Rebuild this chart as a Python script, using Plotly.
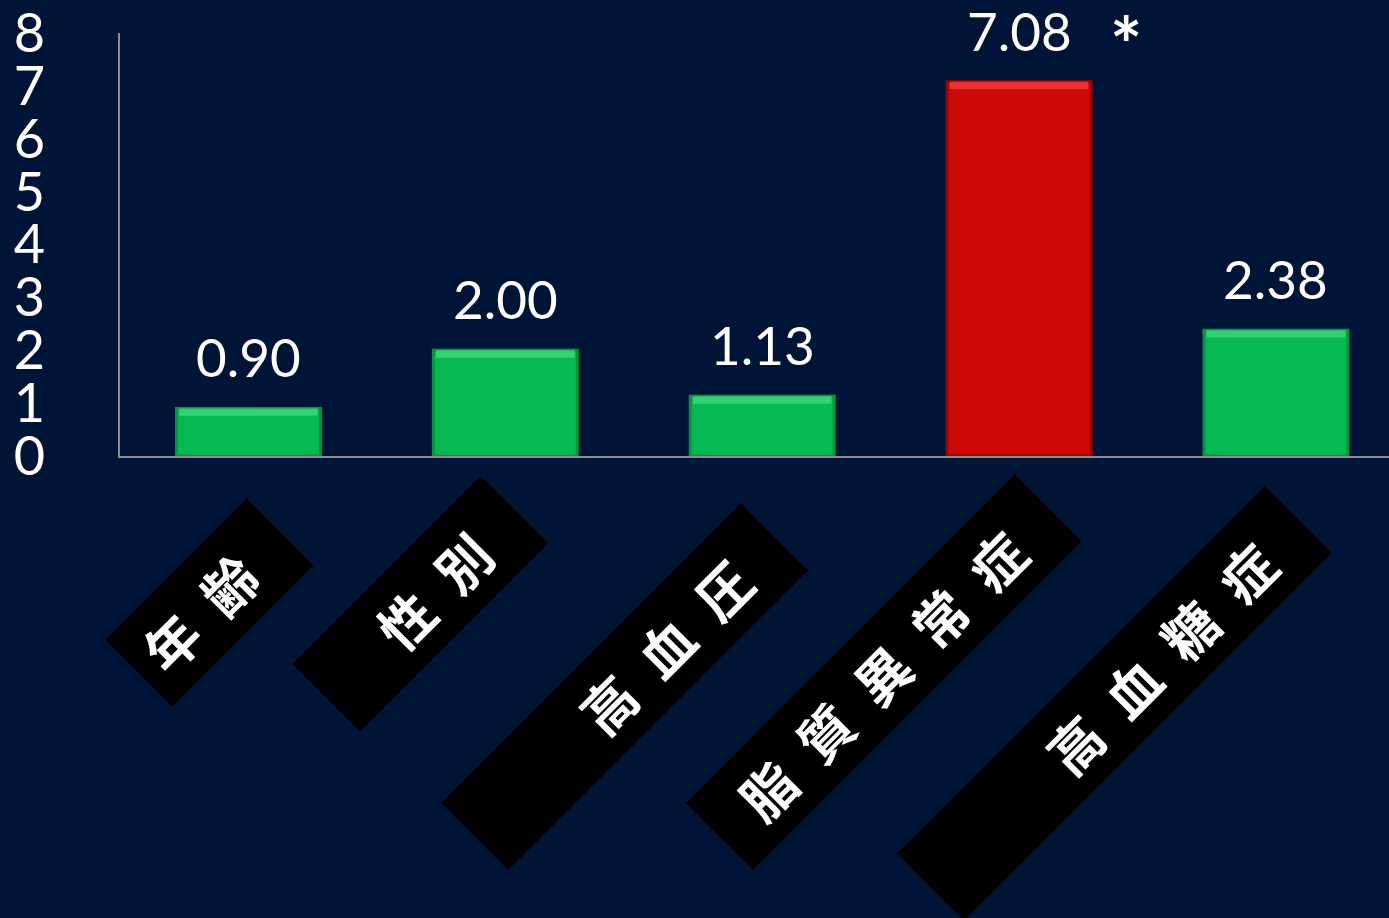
import plotly.graph_objects as go

# Odds ratios by risk factor
categories = ["年 齢", "性 別", "高 血 圧", "脂 質 異 常 症", "高 血 糖 症"]
values = [0.90, 2.00, 1.13, 7.08, 2.38]
value_labels = ["0.90", "2.00", "1.13", "7.08", "2.38"]
significant = [False, False, False, True, False]
y_ticks = [0, 1, 2, 3, 4, 5, 6, 7, 8]

BG = "#001438"
GREEN = "#08b852"
GREEN_EDGE = "#06963f"
GREEN_HI = "#3cd67c"
RED = "#cc0808"
RED_EDGE = "#9a0505"
RED_HI = "#f03a3a"

# black label boxes: (length, thickness) in px and centre offset from the tick
box_len = [200, 266, 424, 465, 520]
box_thick = 95
box_dx = [-39, -85, -138, -136, -162]
box_dy = [-146, -147, -230, -216, -247]

BAR_W = 0.56
BEVEL = 0.14  # depth of the lit top edge, in axis units

x_idx = list(range(len(categories)))
bar_colors = [RED if s else GREEN for s in significant]
edge_colors = [RED_EDGE if s else GREEN_EDGE for s in significant]
hi_colors = [RED_HI if s else GREEN_HI for s in significant]

fig = go.Figure()
fig.add_trace(go.Bar(
    x=x_idx, y=values, width=BAR_W,
    marker=dict(color=bar_colors, line=dict(color=edge_colors, width=3)),
    hoverinfo="skip",
))
# lit bevel along the top of each bar
fig.add_trace(go.Bar(
    x=x_idx, y=[BEVEL] * len(values), base=[v - BEVEL for v in values],
    width=BAR_W - 0.02,
    marker=dict(color=hi_colors, line=dict(width=0)),
    opacity=0.85, hoverinfo="skip",
))

annotations = []
for i, (v, lab) in enumerate(zip(values, value_labels)):
    annotations.append(dict(
        x=i, y=v, xref="x", yref="y", text=lab, showarrow=False,
        xanchor="center", yanchor="bottom", yshift=18,
        font=dict(family="Lato", size=53, color="white"),
    ))
    if significant[i]:
        annotations.append(dict(
            x=i, y=v, xref="x", yref="y", text="*", showarrow=False,
            xanchor="center", yanchor="middle", xshift=107, yshift=38,
            font=dict(family="Lato", size=76, color="white", weight="bold"),
        ))

pad = 10
for i, cat in enumerate(categories):
    txt = cat.replace(" ", "\u2002") + "\u00a0\u00a0\u00a0"
    annotations.append(dict(
        x=i, y=0, xref="x", yref="y", text=txt, showarrow=False,
        xanchor="center", yanchor="middle",
        xshift=box_dx[i], yshift=box_dy[i],
        textangle=-45, bgcolor="black", borderpad=pad, borderwidth=0,
        width=box_len[i] - 2 * pad, height=box_thick - 2 * pad,
        align="right", valign="middle",
        font=dict(family="Noto Sans CJK JP", size=54, color="white", weight="bold"),
    ))

fig.update_layout(
    width=1389, height=918,
    margin=dict(l=120, r=0, t=33, b=462),
    paper_bgcolor=BG, plot_bgcolor=BG,
    showlegend=False, barmode="overlay",
    annotations=annotations,
    xaxis=dict(
        range=[-0.5, 4.44], showticklabels=False, showgrid=False, zeroline=False,
        showline=True, linecolor="#8c8c8c", linewidth=2, ticks="",
        fixedrange=True,
    ),
    yaxis=dict(
        range=[0, 8.001], tickmode="array", tickvals=y_ticks,
        ticktext=[str(t) for t in y_ticks],
        showgrid=False, zeroline=False,
        showline=True, linecolor="#8c8c8c", linewidth=2, ticks="",
        tickfont=dict(family="Lato", size=54, color="white"),
        ticklabelstandoff=62, ticklabeloverflow="allow", fixedrange=True,
    ),
)

fig.write_html("out.html")
